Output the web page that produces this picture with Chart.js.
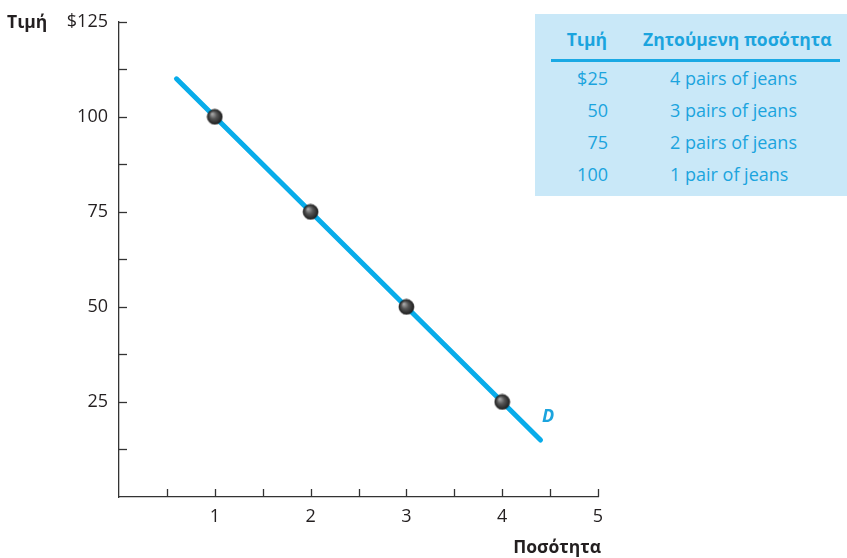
<!DOCTYPE html>
<html>
<head>
<meta charset="utf-8">
<script src="https://cdn.jsdelivr.net/npm/chart.js@4/dist/chart.umd.min.js"></script>
<style>
  html, body { margin: 0; padding: 0; background: #ffffff; }
  #wrap { position: relative; width: 847px; height: 558px; overflow: hidden; }
  #chart { position: absolute; left: 0; top: 0; }
  #schedule {
    position: absolute; left: 535px; top: 14px; width: 312px; height: 182px;
    background: #c9e8f8; font-family: "Open Sans", "Noto Sans", sans-serif; color: #1ba4de;
  }
  #schedule div { position: absolute; height: 32px; line-height: 32px; white-space: nowrap; }
  #schedule .head { font-weight: bold; font-size: 17.5px; }
  #schedule .cell { font-size: 18px; }
  #schedule .rule { height: 3px; background: #1aa9e4; left: 16px; width: 289px; top: 45px; }
</style>
</head>
<body>
<div id="wrap">
  <canvas id="chart" width="847" height="558"></canvas>
  <div id="schedule"></div>
</div>
<script>
// Demand schedule for jeans
const prices = [25, 50, 75, 100];
const quantities = [4, 3, 2, 1];
const quantityText = ['4 pairs of jeans', '3 pairs of jeans', '2 pairs of jeans', '1 pair of jeans'];
const priceText = ['$25', '50', '75', '100'];
const headers = ['Τιμή', 'Ζητούμενη ποσότητα'];

// Demand curve D end points (quantity, price)
const curveQ = [0.6, 4.4];
const curveP = [110, 15];

// Axis labels
const yTitle = 'Τιμή';
const xTitle = 'Ποσότητα';
const curveName = 'D';
const curveLabelAt = { q: 4.48, p: 21 };

// Schedule table: price column right-aligned, quantity column left-aligned
(function buildTable() {
  const box = document.getElementById('schedule');
  function cell(cls, text, top, styles) {
    const d = document.createElement('div');
    d.className = cls;
    d.textContent = text;
    d.style.top = top + 'px';
    Object.assign(d.style, styles);
    box.appendChild(d);
  }
  cell('head', headers[0], 9, { left: '0px', width: '72px', textAlign: 'right' });
  cell('head', headers[1], 9, { left: '108px' });
  const rule = document.createElement('div');
  rule.className = 'rule';
  box.appendChild(rule);
  prices.forEach((p, i) => {
    const top = 48 + i * 32;
    cell('cell', priceText[i], top, { left: '0px', width: '73px', textAlign: 'right' });
    cell('cell', quantityText[i], top, { left: '135px' });
  });
})();

// Shaded ball marker
function makeBall(r) {
  const c = document.createElement('canvas');
  const s = Math.ceil(r * 2 + 2);
  c.width = s; c.height = s;
  const g = c.getContext('2d');
  const cx = s / 2, cy = s / 2;
  const grad = g.createRadialGradient(cx - r * 0.35, cy - r * 0.4, 0.5, cx, cy, r);
  grad.addColorStop(0, '#a8a8a8');
  grad.addColorStop(0.45, '#555555');
  grad.addColorStop(1, '#1e1e1e');
  g.fillStyle = grad;
  g.beginPath(); g.arc(cx, cy, r, 0, Math.PI * 2); g.fill();
  g.strokeStyle = 'rgba(20,20,20,0.8)';
  g.lineWidth = 0.8;
  g.stroke();
  return c;
}
const ball = makeBall(7.5);

const FONT = '"Open Sans", "Noto Sans", sans-serif';

// Inside tick marks, axis titles and curve label
const decorations = {
  id: 'decorations',
  afterDraw(chart) {
    const ctx = chart.ctx;
    const xs = chart.scales.x, ys = chart.scales.y;
    const area = chart.chartArea;
    ctx.save();
    ctx.strokeStyle = '#333333';
    ctx.lineWidth = 1.3;
    ys.ticks.forEach(t => {
      if (t.value === 0) return;
      const y = Math.round(ys.getPixelForValue(t.value)) + 0.5;
      ctx.beginPath(); ctx.moveTo(area.left, y); ctx.lineTo(area.left + 8, y); ctx.stroke();
    });
    xs.ticks.forEach(t => {
      if (t.value === 0) return;
      const x = Math.round(xs.getPixelForValue(t.value)) + 0.5;
      ctx.beginPath(); ctx.moveTo(x, area.bottom); ctx.lineTo(x, area.bottom - 8); ctx.stroke();
    });
    ctx.fillStyle = '#231f20';
    ctx.font = 'bold 17.5px ' + FONT;
    ctx.textBaseline = 'middle';
    ctx.textAlign = 'left';
    ctx.fillText(yTitle, 7, ys.getPixelForValue(125) + 1);
    ctx.textAlign = 'right';
    ctx.fillText(xTitle, xs.getPixelForValue(5) + 3, 548);
    ctx.fillStyle = '#1ba4de';
    ctx.font = 'italic bold 18px ' + FONT;
    ctx.textAlign = 'center';
    ctx.fillText(curveName, xs.getPixelForValue(curveLabelAt.q), ys.getPixelForValue(curveLabelAt.p));
    ctx.restore();
  }
};

new Chart(document.getElementById('chart'), {
  type: 'scatter',
  data: {
    datasets: [
      {
        data: curveQ.map((q, i) => ({ x: q, y: curveP[i] })),
        showLine: true,
        borderColor: '#08acea',
        borderWidth: 5,
        borderCapStyle: 'round',
        pointRadius: 0,
        order: 2
      },
      {
        data: quantities.map((q, i) => ({ x: q, y: prices[i] })),
        showLine: false,
        pointStyle: ball,
        pointRadius: 7.5,
        order: 1
      }
    ]
  },
  options: {
    responsive: false,
    animation: false,
    devicePixelRatio: 1,
    layout: { padding: { top: 18, right: 249, bottom: 0, left: 0 } },
    plugins: { legend: { display: false }, tooltip: { enabled: false } },
    scales: {
      x: {
        type: 'linear', min: 0, max: 5,
        afterFit(s) { s.height = 61; },
        grid: { display: false, drawTicks: false },
        border: { display: true, color: '#333333', width: 1.3 },
        ticks: {
          stepSize: 0.5, autoSkip: false, maxRotation: 0, padding: 9,
          color: '#231f20', font: { family: FONT, size: 18 },
          callback: v => (Number.isInteger(v) && v > 0 ? String(v) : '')
        }
      },
      y: {
        type: 'linear', min: 0, max: 125,
        afterFit(s) { s.width = 119; },
        grid: { display: false, drawTicks: false },
        border: { display: true, color: '#333333', width: 1.3 },
        ticks: {
          stepSize: 12.5, autoSkip: false, padding: 11,
          color: '#231f20', font: { family: FONT, size: 18 },
          callback: v => (v === 125 ? '$125' : (v > 0 && v % 25 === 0 ? String(v) : ''))
        }
      }
    }
  },
  plugins: [decorations]
});
</script>
</body>
</html>
